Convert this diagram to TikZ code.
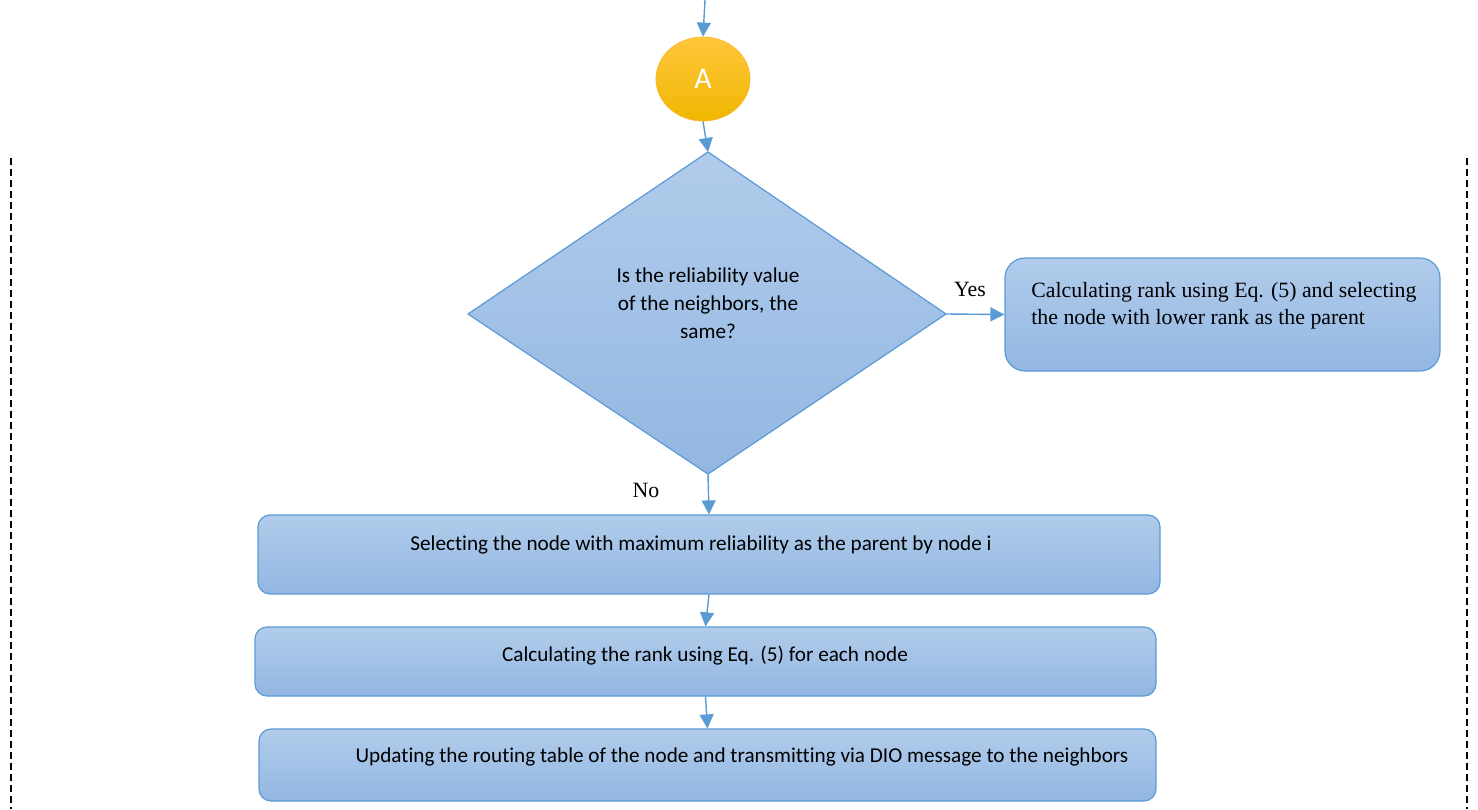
\documentclass[tikz,border=0pt]{standalone}
\usepackage{fontspec}
\setmainfont{Liberation Serif}
\newfontfamily\carlitofont[Ligatures={NoCommon}]{Carlito}
\usetikzlibrary{arrows.meta,shapes.geometric}
\definecolor{edge}{HTML}{5B9BD5}
\definecolor{btop}{HTML}{B1CCEB}
\definecolor{bbot}{HTML}{93B7E2}
\definecolor{gtop}{HTML}{FFC73D}
\definecolor{gbot}{HTML}{EFB700}
\tikzset{
  box/.style={draw=edge,line width=0.6pt,rounded corners=6pt,top color=btop,bottom color=bbot,inner sep=0pt},
  arr/.style={draw=edge,line width=0.7pt,-{Triangle[width=7pt,length=7pt]}},
  btxt/.style={font=\carlitofont\fontsize{10.6}{14}\selectfont,align=center,inner sep=0pt},
  stxt/.style={font=\fontsize{10.9}{13.5}\selectfont,inner sep=0pt},
}
\begin{document}
\begin{tikzpicture}[x=0.5pt,y=-0.5pt]
\useasboundingbox (0,0) rectangle (1478,809);
% dashed frame sides
\draw[line width=0.9pt,dash pattern=on 3.5pt off 2pt] (11,158) -- (11,809);
\draw[line width=0.9pt,dash pattern=on 3.5pt off 2pt] (1467,158) -- (1467,809);
% start coordinate
\coordinate (in) at (705,0);
% A ellipse
\node[ellipse,draw=gtop!80!orange,line width=0.4pt,top color=gtop,bottom color=gbot,minimum width=47pt,minimum height=42pt,inner sep=0pt,text=white,font=\carlitofont\fontsize{15}{15}\selectfont] (A) at (703,79) {A};
% diamond
\fill[top color=btop,bottom color=bbot,draw=edge,line width=0.6pt] (708,152) -- (946,314) -- (708,474) -- (468,314) -- cycle;
\coordinate (dT) at (708,152);
\coordinate (dR) at (946,314);
\coordinate (dB) at (708,474);
\node[btxt] (q) at (708,303) {Is the reliability value\\of the neighbors, the\\same?};
% right box
\node[box,rounded corners=10pt,minimum width=217.5pt,minimum height=56.5pt] (R) at (1222.5,314.5) {};
\node[stxt,anchor=west,align=left] (rt) at (1031,305.5) {Calculating rank using Eq. (5) and selecting\\the node with lower rank as the parent};
% boxes
\node[box,minimum width=451pt,minimum height=39.5pt] (B1) at (709,554.5) {};
\node[btxt] (t1) at (701,545) {Selecting the node with maximum reliability as the parent by node i};
\node[box,minimum width=450.5pt,minimum height=34.5pt] (B2) at (705.5,661.5) {};
\node[btxt] (t2) at (705,656) {Calculating the rank using Eq. (5) for each node};
\node[box,minimum width=448.5pt,minimum height=36pt] (B3) at (707.5,765) {};
\node[btxt] (t3) at (742,757) {Updating the routing table of the node and transmitting via DIO message to the neighbors};
% labels
\node[stxt] (yes) at (970,289) {Yes};
\node[stxt] (no) at (646,490) {No};
% arrows
\draw[arr] (in) -- (A.north);
\draw[arr] (A.south) -- (dT);
\draw[arr] (dR) -- (R.west);
\draw[arr] (dB) -- (B1.north);
\draw[arr] (B1.south) -- (B2.north);
\draw[arr] (B2.south) -- (B3.north);
\end{tikzpicture}
\end{document}
